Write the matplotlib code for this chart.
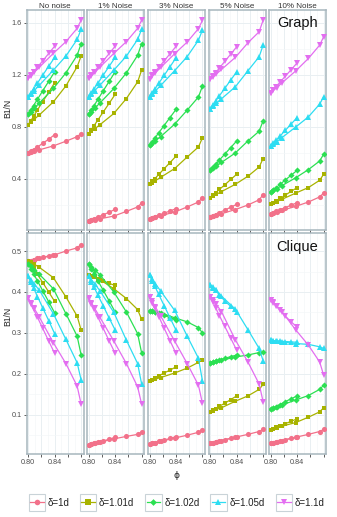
import matplotlib
matplotlib.use("Agg")
import matplotlib.pyplot as plt
from matplotlib.patches import Rectangle
from matplotlib.lines import Line2D

plt.rcParams['font.family'] = ['Liberation Sans', 'DejaVu Sans']

# ---------------- data ----------------
deltas = ["δ=1d", "δ=1.01d", "δ=1.02d", "δ=1.05d", "δ=1.1d"]
noise_levels = ["No noise", "1% Noise", "3% Noise", "5% Noise", "10% Noise"]
row_names = ["Graph", "Clique"]
phi_short = [0.800, 0.804, 0.808, 0.814, 0.822, 0.831, 0.840]
phi_long = [0.800, 0.804, 0.809, 0.817, 0.838, 0.857, 0.874, 0.880]

# Graph row: per noise level, lists in order of deltas
g0_short = [[0.600, 0.612, 0.626, 0.645, 0.675, 0.705, 0.741],
            [0.818, 0.848, 0.880, 0.930, 0.995, 1.065, 1.140],
            [0.898, 0.930, 0.963, 1.012, 1.078, 1.150, 1.224],
            [1.031, 1.061, 1.092, 1.137, 1.198, 1.266, 1.334],
            [1.172, 1.197, 1.222, 1.259, 1.308, 1.364, 1.420]]
g0_long = [[0.600, 0.606, 0.613, 0.624, 0.654, 0.690, 0.725, 0.748],
           [0.818, 0.836, 0.858, 0.893, 0.992, 1.115, 1.262, 1.344],
           [0.898, 0.918, 0.943, 0.984, 1.095, 1.215, 1.350, 1.440],
           [1.031, 1.052, 1.078, 1.121, 1.236, 1.344, 1.472, 1.550],
           [1.172, 1.192, 1.218, 1.259, 1.365, 1.455, 1.557, 1.620]]
g1_short = [[0.077, 0.086, 0.095, 0.108, 0.125, 0.145, 0.167],
            [0.749, 0.779, 0.809, 0.854, 0.915, 0.982, 1.050],
            [0.898, 0.930, 0.963, 1.012, 1.078, 1.150, 1.224],
            [1.031, 1.061, 1.092, 1.137, 1.198, 1.266, 1.334],
            [1.172, 1.197, 1.222, 1.259, 1.308, 1.364, 1.420]]
g1_long = [[0.077, 0.081, 0.086, 0.094, 0.115, 0.151, 0.185, 0.215],
           [0.749, 0.765, 0.785, 0.817, 0.903, 1.018, 1.146, 1.236],
           [0.898, 0.918, 0.943, 0.984, 1.095, 1.215, 1.350, 1.440],
           [1.031, 1.052, 1.078, 1.121, 1.236, 1.344, 1.472, 1.550],
           [1.172, 1.192, 1.218, 1.259, 1.365, 1.455, 1.557, 1.620]]
g2_short = [[0.095, 0.103, 0.111, 0.122, 0.137, 0.154, 0.172],
            [0.359, 0.381, 0.402, 0.435, 0.478, 0.526, 0.575],
            [0.659, 0.686, 0.714, 0.755, 0.810, 0.872, 0.934],
            [1.030, 1.060, 1.090, 1.135, 1.195, 1.262, 1.330],
            [1.170, 1.195, 1.220, 1.257, 1.306, 1.362, 1.418]]
g2_long = [[0.095, 0.100, 0.107, 0.118, 0.146, 0.185, 0.223, 0.257],
           [0.359, 0.371, 0.387, 0.413, 0.480, 0.569, 0.646, 0.716],
           [0.659, 0.674, 0.694, 0.726, 0.821, 0.929, 1.030, 1.113],
           [1.030, 1.051, 1.077, 1.119, 1.232, 1.340, 1.466, 1.544],
           [1.170, 1.190, 1.216, 1.257, 1.362, 1.452, 1.555, 1.618]]
g3_short = [[0.108, 0.118, 0.127, 0.142, 0.161, 0.183, 0.205],
            [0.257, 0.275, 0.293, 0.320, 0.355, 0.396, 0.436],
            [0.467, 0.490, 0.512, 0.546, 0.591, 0.641, 0.692],
            [0.941, 0.969, 0.997, 1.040, 1.096, 1.160, 1.223],
            [1.165, 1.190, 1.215, 1.253, 1.303, 1.359, 1.415]]
g3_long = [[0.108, 0.114, 0.121, 0.133, 0.165, 0.200, 0.240, 0.280],
           [0.257, 0.268, 0.281, 0.303, 0.359, 0.421, 0.492, 0.557],
           [0.467, 0.481, 0.499, 0.527, 0.600, 0.692, 0.767, 0.847],
           [0.941, 0.959, 0.981, 1.016, 1.108, 1.231, 1.339, 1.428],
           [1.165, 1.183, 1.205, 1.241, 1.334, 1.446, 1.531, 1.620]]
g4_short = [[0.134, 0.142, 0.151, 0.163, 0.180, 0.199, 0.218],
            [0.205, 0.218, 0.231, 0.250, 0.276, 0.305, 0.334],
            [0.300, 0.317, 0.333, 0.358, 0.392, 0.429, 0.467],
            [0.652, 0.674, 0.696, 0.729, 0.773, 0.823, 0.872],
            [1.062, 1.085, 1.108, 1.143, 1.189, 1.240, 1.292]]
g4_long = [[0.134, 0.140, 0.147, 0.159, 0.190, 0.223, 0.262, 0.292],
           [0.205, 0.214, 0.226, 0.244, 0.292, 0.334, 0.390, 0.436],
           [0.300, 0.312, 0.326, 0.349, 0.410, 0.472, 0.538, 0.590],
           [0.652, 0.668, 0.687, 0.718, 0.800, 0.877, 0.975, 1.031],
           [1.062, 1.080, 1.102, 1.138, 1.231, 1.326, 1.428, 1.492]]

# Clique row
c0_short = [[0.476, 0.477, 0.479, 0.482, 0.485, 0.488, 0.491],
            [0.477, 0.468, 0.458, 0.443, 0.423, 0.400, 0.377],
            [0.469, 0.457, 0.445, 0.427, 0.403, 0.376, 0.349],
            [0.438, 0.424, 0.410, 0.389, 0.361, 0.330, 0.298],
            [0.385, 0.371, 0.358, 0.338, 0.311, 0.280, 0.250]]
c0_long = [[0.476, 0.477, 0.479, 0.482, 0.490, 0.500, 0.508, 0.516],
           [0.477, 0.473, 0.468, 0.460, 0.435, 0.388, 0.341, 0.307],
           [0.469, 0.463, 0.455, 0.443, 0.408, 0.347, 0.292, 0.246],
           [0.438, 0.430, 0.420, 0.404, 0.347, 0.284, 0.227, 0.185],
           [0.385, 0.374, 0.360, 0.338, 0.276, 0.225, 0.170, 0.126]]
c1_short = [[0.026, 0.028, 0.030, 0.033, 0.036, 0.040, 0.045],
            [0.442, 0.439, 0.437, 0.432, 0.427, 0.421, 0.416],
            [0.468, 0.456, 0.445, 0.427, 0.404, 0.378, 0.351],
            [0.438, 0.425, 0.412, 0.392, 0.366, 0.336, 0.307],
            [0.385, 0.371, 0.358, 0.338, 0.311, 0.280, 0.250]]
c1_long = [[0.026, 0.028, 0.030, 0.033, 0.041, 0.047, 0.052, 0.058],
           [0.442, 0.440, 0.436, 0.430, 0.408, 0.384, 0.357, 0.333],
           [0.468, 0.462, 0.454, 0.442, 0.400, 0.351, 0.298, 0.251],
           [0.438, 0.430, 0.420, 0.403, 0.350, 0.282, 0.225, 0.175],
           [0.385, 0.374, 0.360, 0.338, 0.280, 0.225, 0.168, 0.126]]
c2_short = [[0.028, 0.030, 0.032, 0.035, 0.038, 0.042, 0.046],
            [0.183, 0.186, 0.190, 0.195, 0.202, 0.209, 0.217],
            [0.354, 0.354, 0.352, 0.348, 0.343, 0.337, 0.331],
            [0.441, 0.428, 0.414, 0.394, 0.367, 0.337, 0.307],
            [0.388, 0.374, 0.360, 0.340, 0.312, 0.281, 0.250]]
c2_long = [[0.028, 0.030, 0.032, 0.035, 0.043, 0.050, 0.057, 0.063],
           [0.183, 0.185, 0.187, 0.191, 0.202, 0.214, 0.228, 0.235],
           [0.354, 0.354, 0.352, 0.349, 0.337, 0.327, 0.313, 0.300],
           [0.441, 0.432, 0.420, 0.402, 0.355, 0.292, 0.238, 0.183],
           [0.388, 0.377, 0.363, 0.341, 0.280, 0.225, 0.172, 0.128]]
c3_short = [[0.030, 0.032, 0.034, 0.036, 0.039, 0.042, 0.045],
            [0.107, 0.111, 0.115, 0.121, 0.128, 0.137, 0.146],
            [0.227, 0.229, 0.231, 0.234, 0.238, 0.242, 0.246],
            [0.418, 0.411, 0.404, 0.393, 0.378, 0.365, 0.352],
            [0.388, 0.375, 0.362, 0.342, 0.316, 0.287, 0.258]]
c3_long = [[0.030, 0.032, 0.034, 0.037, 0.045, 0.052, 0.059, 0.064],
           [0.107, 0.110, 0.113, 0.117, 0.133, 0.146, 0.162, 0.174],
           [0.227, 0.229, 0.231, 0.233, 0.241, 0.246, 0.252, 0.254],
           [0.418, 0.412, 0.404, 0.390, 0.358, 0.308, 0.262, 0.232],
           [0.388, 0.380, 0.370, 0.352, 0.283, 0.229, 0.175, 0.132]]
c4_short = [[0.030, 0.032, 0.034, 0.036, 0.039, 0.042, 0.045],
            [0.063, 0.066, 0.069, 0.073, 0.078, 0.084, 0.090],
            [0.113, 0.116, 0.120, 0.125, 0.132, 0.139, 0.146],
            [0.282, 0.281, 0.281, 0.280, 0.279, 0.278, 0.277],
            [0.381, 0.374, 0.367, 0.356, 0.341, 0.327, 0.314]]
c4_long = [[0.030, 0.032, 0.034, 0.037, 0.045, 0.052, 0.059, 0.064],
           [0.063, 0.065, 0.068, 0.072, 0.081, 0.094, 0.107, 0.117],
           [0.113, 0.116, 0.119, 0.124, 0.136, 0.147, 0.162, 0.172],
           [0.282, 0.281, 0.280, 0.278, 0.274, 0.272, 0.266, 0.262],
           [0.381, 0.375, 0.366, 0.352, 0.307, 0.270, 0.229, 0.197]]

graph_short = [g0_short, g1_short, g2_short, g3_short, g4_short]
graph_long = [g0_long, g1_long, g2_long, g3_long, g4_long]
clique_short = [c0_short, c1_short, c2_short, c3_short, c4_short]
clique_long = [c0_long, c1_long, c2_long, c3_long, c4_long]

x_ticks = [0.80, 0.82, 0.84, 0.86, 0.88]
x_ticklabels = ["0.80", "", "0.84", "", ""]
graph_yticks = [0.4, 0.8, 1.2, 1.6]
clique_yticks = [0.1, 0.2, 0.3, 0.4, 0.5]

# ---------------- style ----------------
colors = ['#F2718A', '#A8B300', '#2BE052', '#2DDDF2', '#E36EF0']
markers = ['o', 's', 'D', '^', 'v']
msizes = [3.7, 3.4, 3.1, 4.0, 4.0]
border = '#A7B6BD'
W, H = 337, 517

fig = plt.figure(figsize=(W / 100, H / 100), dpi=100)


def add_ax(left, top, width, height):
    return fig.add_axes([left / W, 1 - (top + height) / H, width / W, height / H])


col_left = [26.5, 87.0, 147.8, 208.5, 269.0]
col_w = 57.2
rows = [(10.0, 220.0, (0.008, 1.698), graph_yticks, graph_short, graph_long),
        (233.5, 220.5, (0.004, 0.543), clique_yticks, clique_short, clique_long)]

for r, (top, hgt, ylim, yt, dshort, dlong) in enumerate(rows):
    for c in range(5):
        ax = add_ax(col_left[c], top, col_w, hgt)
        ax.set_xlim(0.7974, 0.8839)
        ax.set_ylim(*ylim)
        ax.set_xticks(x_ticks)
        ax.set_xticks([0.81, 0.83, 0.85, 0.87], minor=True)
        ax.set_yticks(yt)
        step = yt[1] - yt[0]
        ax.set_yticks([v - step / 2 for v in yt] + [yt[-1] + step / 2], minor=True)
        ax.set_ylim(*ylim)
        ax.grid(which='major', color='#E9EFF2', lw=0.7)
        ax.grid(which='minor', color='#F3F6F8', lw=0.45)
        ax.set_axisbelow(True)
        for s in ax.spines.values():
            s.set_color(border)
            s.set_linewidth(1.1)
        ax.tick_params(which='minor', length=0)
        ax.tick_params(which='major', length=2.2, width=0.6, color='#444444',
                       labelsize=5.2, labelcolor='#4D4D4D', pad=1.2)
        if r == 1:
            ax.set_xticklabels(x_ticklabels)
        else:
            ax.set_xticklabels([])
        if c == 0:
            ax.set_yticklabels([f"{v:.1f}" for v in yt])
        else:
            ax.tick_params(axis='y', left=False, labelleft=False)
        for k in range(5):
            ax.plot(phi_short, dshort[c][k], color=colors[k], lw=0.9,
                    marker=markers[k], ms=msizes[k], mew=0, zorder=3)
            ax.plot(phi_long, dlong[c][k], color=colors[k], lw=0.9,
                    marker=markers[k], ms=msizes[k], mew=0, zorder=3)
        if r == 0:
            ax.set_title(noise_levels[c], fontsize=5.8, color='#333333', pad=1.5)
        if c == 4:
            ax.text(0.5, 0.94, row_names[r], transform=ax.transAxes, ha='center',
                    va='center', fontsize=10.5, color='#111111')

# axis titles
fig.text(7.5 / W, 1 - 108 / H, "B1/N", rotation=90, ha='center', va='center',
         fontsize=6.2, color='#222222')
fig.text(7.5 / W, 1 - 316 / H, "B1/N", rotation=90, ha='center', va='center',
         fontsize=6.2, color='#222222')
fig.text(176.5 / W, 1 - 475 / H, "ϕ", ha='center', va='center',
         fontsize=6.5, color='#222222', family=['DejaVu Sans'])

# legend (drawn in pixel space)
lax = fig.add_axes([0, 0, 1, 1], facecolor='none')
lax.set_xlim(0, W)
lax.set_ylim(H, 0)
lax.axis('off')
key_x = [28.5, 79.5, 145.0, 210.0, 275.5]
for k in range(5):
    x0 = key_x[k]
    lax.add_patch(Rectangle((x0, 494), 16.5, 16.5, facecolor='white',
                            edgecolor='#C9D3D8', lw=0.8))
    lax.add_line(Line2D([x0 + 1.5, x0 + 15], [502.2, 502.2], color=colors[k], lw=0.9))
    lax.plot([x0 + 8.25], [502.2], marker=markers[k], color=colors[k], ms=msizes[k] + 0.3,
             mew=0)
    lax.text(x0 + 19.5, 502.5, deltas[k], ha='left', va='center', fontsize=7,
             color='#222222')

fig.savefig("out.png", dpi=100)
